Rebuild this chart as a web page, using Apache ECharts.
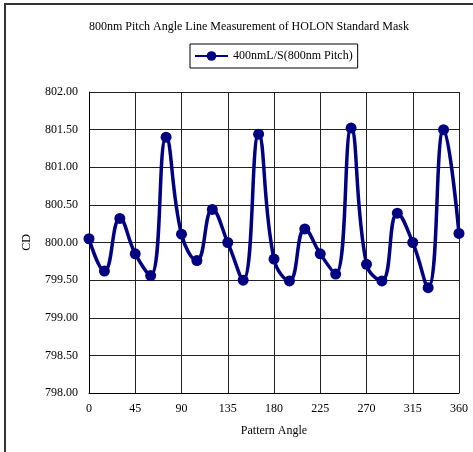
<!DOCTYPE html>
<html>
<head>
<meta charset="utf-8">
<script src="https://cdn.jsdelivr.net/npm/echarts@6/dist/echarts.min.js"></script>
<style>html,body{margin:0;padding:0;background:#fff}#c{width:473px;height:452px}</style>
</head>
<body>
<div id="c"></div>
<script>
const titleText = '800nm Pitch Angle Line Measurement of HOLON Standard Mask';
const seriesName = '400nmL/S(800nm Pitch)';
const angles = [0,15,30,45,60,75,90,105,120,135,150,165,180,195,210,225,240,255,270,285,300,315,330,345,360];
const cdValues = [800.05,799.62,800.32,799.85,799.56,801.40,800.11,799.76,800.44,800.00,799.50,801.44,799.78,799.49,800.18,799.85,799.58,801.52,799.71,799.49,800.39,800.00,799.40,801.50,800.12];
const xAxisName = 'Pattern Angle';
const yAxisName = 'CD';

const font = '"Liberation Serif","Times New Roman",serif';
const chart = echarts.init(document.getElementById('c'));
chart.setOption({
  animation: false,
  backgroundColor: '#fff',
  textStyle: {fontFamily: font, color: '#000'},
  graphic: [{
    type: 'rect', shape: {x: 5, y: 4, width: 480, height: 460},
    style: {fill: 'none', stroke: '#333', lineWidth: 2}, silent: true
  }],
  title: {
    text: titleText, left: 84, top: 16,
    textStyle: {fontFamily: font, fontSize: 12, fontWeight: 'normal', color: '#000'}
  },
  legend: {
    left: 190, top: 44, padding: [6, 5, 6, 4],
    borderColor: '#000', borderWidth: 1, borderRadius: 0,
    itemWidth: 33, itemHeight: 12,
    textStyle: {fontFamily: font, fontSize: 12, color: '#000'},
    data: [seriesName]
  },
  grid: {left: 89, top: 92, right: 14, bottom: 59, containLabel: false, show: false},
  xAxis: {
    type: 'value', min: 0, max: 360, interval: 45,
    name: xAxisName, nameLocation: 'middle', nameGap: 32,
    nameTextStyle: {fontFamily: font, fontSize: 12, color: '#000'},
    axisLine: {show: true, lineStyle: {color: '#000', width: 1}},
    axisTick: {show: false},
    axisLabel: {fontFamily: font, fontSize: 12, color: '#000', margin: 10},
    splitLine: {show: true, lineStyle: {color: '#222', width: 1}}
  },
  yAxis: {
    type: 'value', min: 798, max: 802, interval: 0.5,
    name: yAxisName, nameLocation: 'middle', nameGap: 56, nameRotate: 90,
    nameTextStyle: {fontFamily: font, fontSize: 12, color: '#000'},
    axisLine: {show: true, lineStyle: {color: '#000', width: 1}},
    axisTick: {show: false},
    axisLabel: {fontFamily: font, fontSize: 12, color: '#000', margin: 11,
      formatter: v => v.toFixed(2)},
    splitLine: {show: true, lineStyle: {color: '#222', width: 1}}
  },
  series: [{
    name: seriesName, type: 'line', smooth: 0.45,
    data: angles.map((a, i) => [a, cdValues[i]]),
    symbol: 'circle', symbolSize: 11,
    lineStyle: {color: '#000080', width: 3.5},
    itemStyle: {color: '#000080'}
  }]
});
</script>
</body>
</html>
